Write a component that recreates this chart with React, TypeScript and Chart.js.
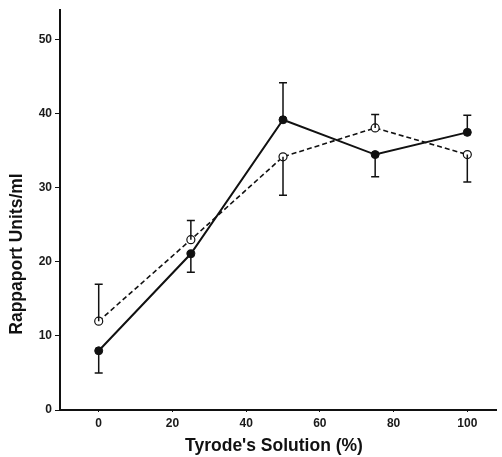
import React, { useEffect, useRef } from "react";
import { Chart, registerables } from "chart.js";
Chart.register(...registerables);

const xValues = [0, 25, 50, 75, 100];
const filledMeans = [8, 21.1, 39.2, 34.5, 37.5];
const filledErr = [-3, -2.5, 5, -3, 2.3];
const openMeans = [12, 23, 34.2, 38.1, 34.5];
const openErr = [5, 2.6, -5.2, 1.8, -3.7];
const xTicks = [0, 20, 40, 60, 80, 100];
const yTicks = [0, 10, 20, 30, 40, 50];
const xTitle = "Tyrode's Solution (%)";
const yTitle = "Rappaport Units/ml";

const errorBarPlugin = {
  id: "errorBars",
  afterDatasetsDraw(chart: any) {
    const ctx = chart.ctx;
    const xs = chart.scales.x;
    const ys = chart.scales.y;
    ctx.save();
    ctx.strokeStyle = "#111";
    ctx.lineWidth = 1.5;
    chart.data.datasets.forEach((ds: any) => {
      const errs = ds.errors as number[];
      ds.data.forEach((p: any, i: number) => {
        const px = xs.getPixelForValue(p.x);
        const py = ys.getPixelForValue(p.y);
        const ey = ys.getPixelForValue(p.y + errs[i]);
        ctx.beginPath();
        ctx.moveTo(px, py);
        ctx.lineTo(px, ey);
        ctx.moveTo(px - 4, ey);
        ctx.lineTo(px + 4, ey);
        ctx.stroke();
      });
    });
    ctx.restore();
  },
};

const titlesPlugin = {
  id: "titles",
  afterDraw(chart: any) {
    const ctx = chart.ctx;
    ctx.save();
    ctx.fillStyle = "#111";
    ctx.font = "bold 17.5px 'Liberation Sans', Arial, sans-serif";
    ctx.textAlign = "center";
    ctx.textBaseline = "middle";
    ctx.fillText(xTitle, 274, 446);
    ctx.translate(17, 254);
    ctx.rotate(-Math.PI / 2);
    ctx.fillText(yTitle, 0, 0);
    ctx.restore();
  },
};

export default function App() {
  const ref = useRef<HTMLCanvasElement>(null);
  useEffect(() => {
    if (!ref.current) return;
    const chart = new Chart(ref.current, {
      type: "line",
      data: {
        datasets: [
          {
            label: "filled",
            data: xValues.map((x, i) => ({ x, y: filledMeans[i] })),
            errors: filledErr,
            borderColor: "#111",
            borderWidth: 2,
            pointRadius: 4,
            pointBackgroundColor: "#111",
            pointBorderColor: "#111",
            pointBorderWidth: 1,
            tension: 0,
          } as any,
          {
            label: "open",
            data: xValues.map((x, i) => ({ x, y: openMeans[i] })),
            errors: openErr,
            borderColor: "#111",
            borderWidth: 1.6,
            borderDash: [5, 3],
            pointRadius: 4,
            pointBackgroundColor: "#fff",
            pointBorderColor: "#111",
            pointBorderWidth: 1.2,
            tension: 0,
          } as any,
        ],
      },
      options: {
        animation: false,
        responsive: false,
        layout: { padding: { top: 10, right: 1, left: 0, bottom: 0 } },
        plugins: { legend: { display: false }, tooltip: { enabled: false } },
        scales: {
          x: {
            type: "linear",
            min: -10.5,
            max: 108,
            afterBuildTicks: (s: any) => {
              s.ticks = xTicks.map((v) => ({ value: v }));
            },
            afterFit: (s: any) => {
              s.height = 47;
            },
            grid: { display: true, drawOnChartArea: false, drawTicks: true, tickLength: 2, color: "#111" },
            border: { display: true, color: "#111", width: 2 },
            ticks: {
              padding: 4,
              color: "#1a1a1a",
              font: { family: "'Liberation Sans', Arial, sans-serif", size: 12, weight: "bold" },
            },
          },
          y: {
            type: "linear",
            min: 0,
            max: 54,
            afterBuildTicks: (s: any) => {
              s.ticks = yTicks.map((v) => ({ value: v }));
            },
            afterFit: (s: any) => {
              s.width = 60;
            },
            grid: { display: true, drawOnChartArea: false, drawTicks: true, tickLength: 5, color: "#111" },
            border: { display: true, color: "#111", width: 2 },
            ticks: {
              padding: 3,
              color: "#1a1a1a",
              font: { family: "'Liberation Sans', Arial, sans-serif", size: 12, weight: "bold" },
            },
          },
        },
      },
      plugins: [errorBarPlugin, titlesPlugin],
    });
    return () => chart.destroy();
  }, []);
  return (
    <div style={{ position: "absolute", left: 0, top: 0, width: 502, height: 457, background: "#fff" }}>
      <canvas ref={ref} width={502} height={457} style={{ width: 502, height: 457 }} />
    </div>
  );
}
